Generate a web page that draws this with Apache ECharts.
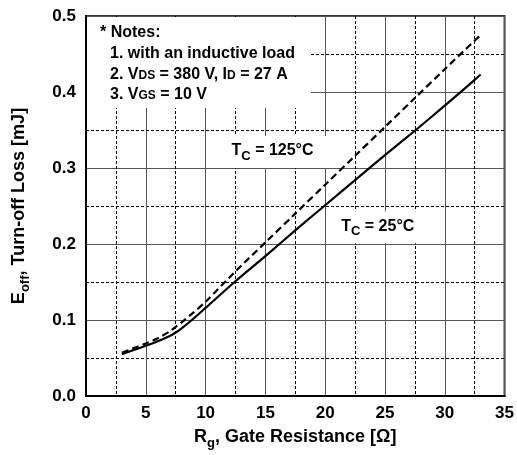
<!DOCTYPE html>
<html>
<head>
<meta charset="utf-8">
<script src="https://cdn.jsdelivr.net/npm/echarts@6/dist/echarts.min.js"></script>
<style>html,body{margin:0;padding:0;background:#fff}#chart{width:517px;height:455px}</style>
</head>
<body>
<div id="chart"></div>
<script>
/* 曲线数据：Rg [Ω] / Eoff [mJ] */
var rgTc25 = [3, 4, 5, 6, 7, 7.5, 8, 9, 10, 12.5, 15, 17.5, 20, 22.5, 25, 27.5, 30, 32.5, 33];
var eoffTc25 = [0.055, 0.0605, 0.066, 0.072, 0.079, 0.0835, 0.089, 0.102, 0.116, 0.151, 0.184, 0.218, 0.251, 0.284, 0.317, 0.349, 0.382, 0.416, 0.423];
var rgTc125 = [3, 4, 5, 6, 7, 7.5, 8, 9, 10, 12.5, 15, 17.5, 20, 22.5, 25, 27.5, 30, 33];
var eoffTc125 = [0.057, 0.063, 0.069, 0.076, 0.085, 0.091, 0.097, 0.110, 0.124, 0.164, 0.202, 0.240, 0.278, 0.316, 0.354, 0.392, 0.430, 0.475];
/* 坐标轴刻度 */
var xTicks = [0, 5, 10, 15, 20, 25, 30, 35];
var yTicks = [0.0, 0.1, 0.2, 0.3, 0.4, 0.5];
/* 曲线标注位置 */
var label125At = [15.6, 0.321];
var label25At = [24.4, 0.222];

var FONT = "'Liberation Sans', Arial, sans-serif";

function zip(xs, ys) {
	var out = [];
	for (var i = 0; i < xs.length; i++) {
		out.push([xs[i], ys[i]]);
	}
	return out;
}

function tcLabel(text) {
	return '{t|T}{s|C}{t| = ' + text + '}';
}

var tcRich = {
	t: {fontSize: 16, fontWeight: 'bold', fontFamily: FONT, color: '#000', verticalAlign: 'bottom', padding: [0, 0, 4, 0]},
	s: {fontSize: 13, fontWeight: 'bold', fontFamily: FONT, color: '#000', verticalAlign: 'bottom'}
};

var noteRich = {
	n: {fontSize: 16, fontWeight: 'bold', fontFamily: FONT, color: '#000', verticalAlign: 'bottom'},
	m: {fontSize: 12, fontWeight: 'bold', fontFamily: FONT, color: '#000', verticalAlign: 'bottom', padding: [0, 0, 1, 0]}
};

var chart = echarts.init(document.getElementById('chart'));
var option = {
	animation: false,
	backgroundColor: '#fff',
	grid: {
		left: 86, right: 9, top: 16, bottom: 56,
		show: true, borderColor: '#333', borderWidth: 2
	},
	xAxis: {
		type: 'value',
		min: xTicks[0], max: xTicks[xTicks.length - 1], interval: 5,
		name: '{m|R}{s|g}{m|, Gate Resistance [Ω]}',
		nameLocation: 'middle',
		nameGap: 32,
		nameTextStyle: {
			rich: {
				m: {fontSize: 18, fontWeight: 'bold', fontFamily: FONT, color: '#000', verticalAlign: 'bottom', padding: [0, 0, 4, 0]},
				s: {fontSize: 13, fontWeight: 'bold', fontFamily: FONT, color: '#000', verticalAlign: 'bottom'}
			}
		},
		axisLine: {show: true, lineStyle: {color: '#000', width: 2}},
		axisTick: {show: false},
		axisLabel: {margin: 9, fontSize: 17, fontWeight: 'bold', fontFamily: FONT, color: '#000'},
		splitLine: {show: true, lineStyle: {color: '#555', width: 1, type: 'solid'}},
		minorTick: {show: false, splitNumber: 2},
		minorSplitLine: {show: true, lineStyle: {color: '#000', width: 1, type: [3, 2]}}
	},
	yAxis: {
		type: 'value',
		min: yTicks[0], max: yTicks[yTicks.length - 1], interval: 0.1,
		name: '{m|E}{s|off}{m|, Turn-off Loss [mJ]}',
		nameLocation: 'middle',
		nameGap: 54,
		nameTextStyle: {
			rich: {
				m: {fontSize: 18, fontWeight: 'bold', fontFamily: FONT, color: '#000', verticalAlign: 'bottom', padding: [0, 0, 4, 0]},
				s: {fontSize: 13, fontWeight: 'bold', fontFamily: FONT, color: '#000', verticalAlign: 'bottom'}
			}
		},
		axisLine: {show: true, lineStyle: {color: '#000', width: 2}},
		axisTick: {show: false},
		axisLabel: {
			margin: 10, fontSize: 17, fontWeight: 'bold', fontFamily: FONT, color: '#000',
			formatter: function (v) { return v.toFixed(1); }
		},
		splitLine: {show: true, lineStyle: {color: '#555', width: 1, type: 'solid'}},
		minorTick: {show: false, splitNumber: 2},
		minorSplitLine: {show: true, lineStyle: {color: '#000', width: 1, type: [3, 2]}}
	},
	/* 注释框 */
	graphic: [
		{type: 'rect', z: 1, shape: {x: 87, y: 17, width: 224, height: 91}, style: {fill: '#fff'}},
		{type: 'text', z: 1, left: 100, top: 25, style: {text: '{n|* Notes:}', rich: noteRich}},
		{type: 'text', z: 1, left: 110, top: 46, style: {text: '{n|1. with an inductive load}', rich: noteRich}},
		{type: 'text', z: 1, left: 110, top: 67, style: {text: '{n|2. V}{m|DS}{n| = 380 V, I}{m|D}{n| = 27 A}', rich: noteRich}},
		{type: 'text', z: 1, left: 110, top: 87, style: {text: '{n|3. V}{m|GS}{n| = 10 V}', rich: noteRich}}
	],
	series: [
		{
			name: 'Tc = 25°C',
			type: 'line',
			data: zip(rgTc25, eoffTc25),
			smooth: 0.3,
			showSymbol: false,
			lineStyle: {color: '#000', width: 2.2, type: 'solid'},
			markPoint: {
				symbol: 'rect', symbolSize: 1,
				itemStyle: {color: 'rgba(0,0,0,0)'},
				label: {show: true, position: 'inside', formatter: tcLabel('25°C'), backgroundColor: '#fff', padding: [7, 12, 5, 12], rich: tcRich},
				data: [{coord: label25At}]
			}
		},
		{
			name: 'Tc = 125°C',
			type: 'line',
			data: zip(rgTc125, eoffTc125),
			smooth: 0.3,
			showSymbol: false,
			lineStyle: {color: '#000', width: 2.2, type: [7, 4]},
			markPoint: {
				symbol: 'rect', symbolSize: 1,
				itemStyle: {color: 'rgba(0,0,0,0)'},
				label: {show: true, position: 'inside', formatter: tcLabel('125°C'), backgroundColor: '#fff', padding: [7, 14, 5, 14], rich: tcRich},
				data: [{coord: label125At}]
			}
		}
	]
};
chart.setOption(option);
</script>
</body>
</html>
